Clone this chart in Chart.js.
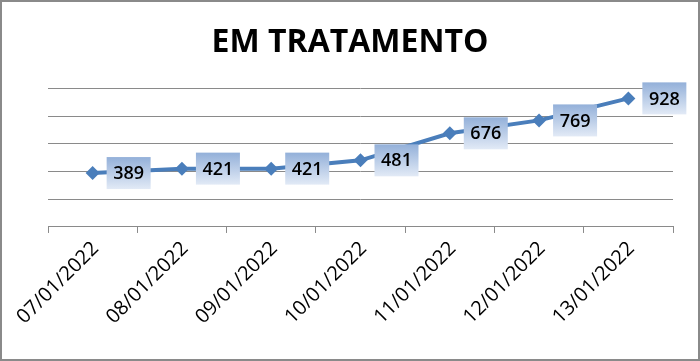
<!DOCTYPE html>
<html><head><meta charset="utf-8">
<script src="https://cdn.jsdelivr.net/npm/chart.js@4/dist/chart.umd.min.js"></script>
<style>html,body{margin:0;padding:0;background:#fff}#w{width:700px;height:361px;position:relative}</style>
</head><body><div id="w"><canvas id="c" width="700" height="361"></canvas></div>
<script>
const categories = ["07/01/2022","08/01/2022","09/01/2022","10/01/2022","11/01/2022","12/01/2022","13/01/2022"];
const emTratamento = [389, 421, 421, 481, 676, 769, 928];
const titleText = "EM TRATAMENTO";
const yMax = 1000, yStep = 200;

const borderPlugin = {
  id: 'border',
  afterDraw(chart) {
    const ctx = chart.ctx;
    ctx.save();
    ctx.strokeStyle = '#8a8a8a';
    ctx.lineWidth = 2;
    ctx.strokeRect(1, 1, chart.width - 2, chart.height - 2);
    ctx.restore();
  }
};
const labelPlugin = {
  id: 'boxLabels',
  afterDatasetsDraw(chart) {
    const ctx = chart.ctx;
    const meta = chart.getDatasetMeta(0);
    ctx.save();
    ctx.font = '600 18px "Open Sans", Lato, sans-serif';
    ctx.textBaseline = 'middle';
    ctx.textAlign = 'center';
    meta.data.forEach((pt, i) => {
      const w = 44, h = 32;
      const x = pt.x + 14, y = pt.y - h / 2;
      const g = ctx.createLinearGradient(0, y, 0, y + h);
      g.addColorStop(0, '#93b0d9');
      g.addColorStop(1, '#e2eaf6');
      ctx.fillStyle = g;
      ctx.fillRect(x, y, w, h);
      ctx.fillStyle = '#000';
      ctx.fillText(String(chart.data.datasets[0].data[i]), x + w / 2, pt.y + 1);
    });
    ctx.restore();
  }
};

new Chart(document.getElementById('c'), {
  type: 'line',
  data: {
    labels: categories,
    datasets: [{
      data: emTratamento,
      borderColor: '#4a7ebb',
      backgroundColor: '#4a7ebb',
      borderWidth: 4,
      tension: 0,
      pointStyle: 'rectRot',
      pointRadius: 7,
      pointHoverRadius: 7,
      pointBorderWidth: 0
    }]
  },
  options: {
    responsive: false,
    animation: false,
    events: [],
    layout: { padding: { left: 0, right: 0, top: 0, bottom: 28 } },
    plugins: {
      legend: { display: false },
      tooltip: { enabled: false },
      title: {
        display: true,
        text: titleText,
        color: '#000',
        font: { family: '"Open Sans", Lato, sans-serif', size: 32, weight: 'bold' },
        padding: { top: 24, bottom: 26 }
      }
    },
    scales: {
      x: {
        offset: true,
        grid: { drawOnChartArea: false, offset: true, color: '#8a8a8a', tickLength: 6, tickColor: '#8a8a8a' },
        border: { display: true, color: '#8a8a8a', width: 1 },
        ticks: {
          color: '#000',
          font: { family: '"Open Sans", Lato, sans-serif', size: 20 },
          minRotation: 45, maxRotation: 45,
          labelOffset: 3,
          padding: 4
        }
      },
      y: {
        min: 0, max: yMax,
        ticks: { display: false, stepSize: yStep },
        grid: { drawTicks: false, color: '#8a8a8a', lineWidth: 1 },
        border: { display: false },
        afterFit(s) { s.width = 48; }
      },
      yRight: {
        position: 'right',
        min: 0, max: yMax,
        ticks: { display: false },
        grid: { display: false, drawTicks: false },
        border: { display: false },
        afterFit(s) { s.width = 27; }
      }
    }
  },
  plugins: [labelPlugin, borderPlugin]
});
</script>
</body></html>
